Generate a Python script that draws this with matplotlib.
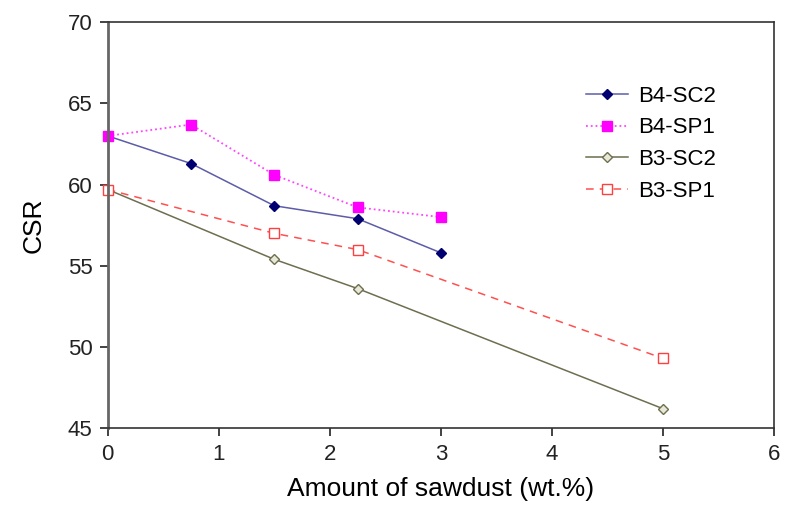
import matplotlib
matplotlib.use("Agg")
import matplotlib.pyplot as plt

plt.rcParams['font.family'] = ['Liberation Sans', 'DejaVu Sans']

x_b4 = [0, 0.75, 1.5, 2.25, 3]
b4_sc2 = [63.0, 61.3, 58.7, 57.9, 55.8]
b4_sp1 = [63.0, 63.7, 60.6, 58.6, 58.0]
x_b3 = [0, 1.5, 2.25, 5]
b3_sc2 = [59.7, 55.4, 53.6, 46.2]
b3_sp1 = [59.7, 57.0, 56.0, 49.3]

fig = plt.figure(figsize=(7.86, 5.05), dpi=100)
ax = fig.add_axes([0.137, 0.152, 0.848, 0.804])

ax.plot(x_b4, b4_sc2, '-', color='#5c5ca8', lw=1.1, marker='D', ms=5,
        mfc='#000070', mec='#000070', label='B4-SC2', clip_on=False)
ax.plot(x_b4, b4_sp1, ':', color='#ff44ff', lw=1.3, marker='s', ms=7,
        mfc='#ff00ff', mec='#ff00ff', label='B4-SP1', clip_on=False)
ax.plot(x_b3, b3_sc2, '-', color='#6e6e50', lw=1.1, marker='D', ms=5,
        mfc='#e8e8d8', mec='#6e6e50', label='B3-SC2', clip_on=False)
ax.plot(x_b3, b3_sp1, '--', color='#ff5050', lw=1.1, marker='s', ms=7,
        mfc='white', mec='#ff4040', label='B3-SP1', dashes=(5, 4), clip_on=False)

ax.set_xlim(0, 6)
ax.set_ylim(45, 70)
ax.set_xticks(range(0, 7))
ax.set_yticks(range(45, 71, 5))
for s in ax.spines.values():
    s.set_color('#333333')
    s.set_linewidth(1.2)
ax.spines['left'].set_color('#666666')
ax.spines['left'].set_linewidth(2)
ax.tick_params(direction='out', length=6, width=1.2, labelsize=16, colors='#222222', pad=5)
ax.set_xlabel('Amount of sawdust (wt.%)', fontsize=19, labelpad=9)
ax.set_ylabel('CSR', fontsize=19, labelpad=16)

ax.legend(loc='upper left', bbox_to_anchor=(0.688, 0.893), frameon=False,
          fontsize=16, handlelength=1.9, labelspacing=0.48, handletextpad=0.45)

fig.savefig('out.png', dpi=100)
